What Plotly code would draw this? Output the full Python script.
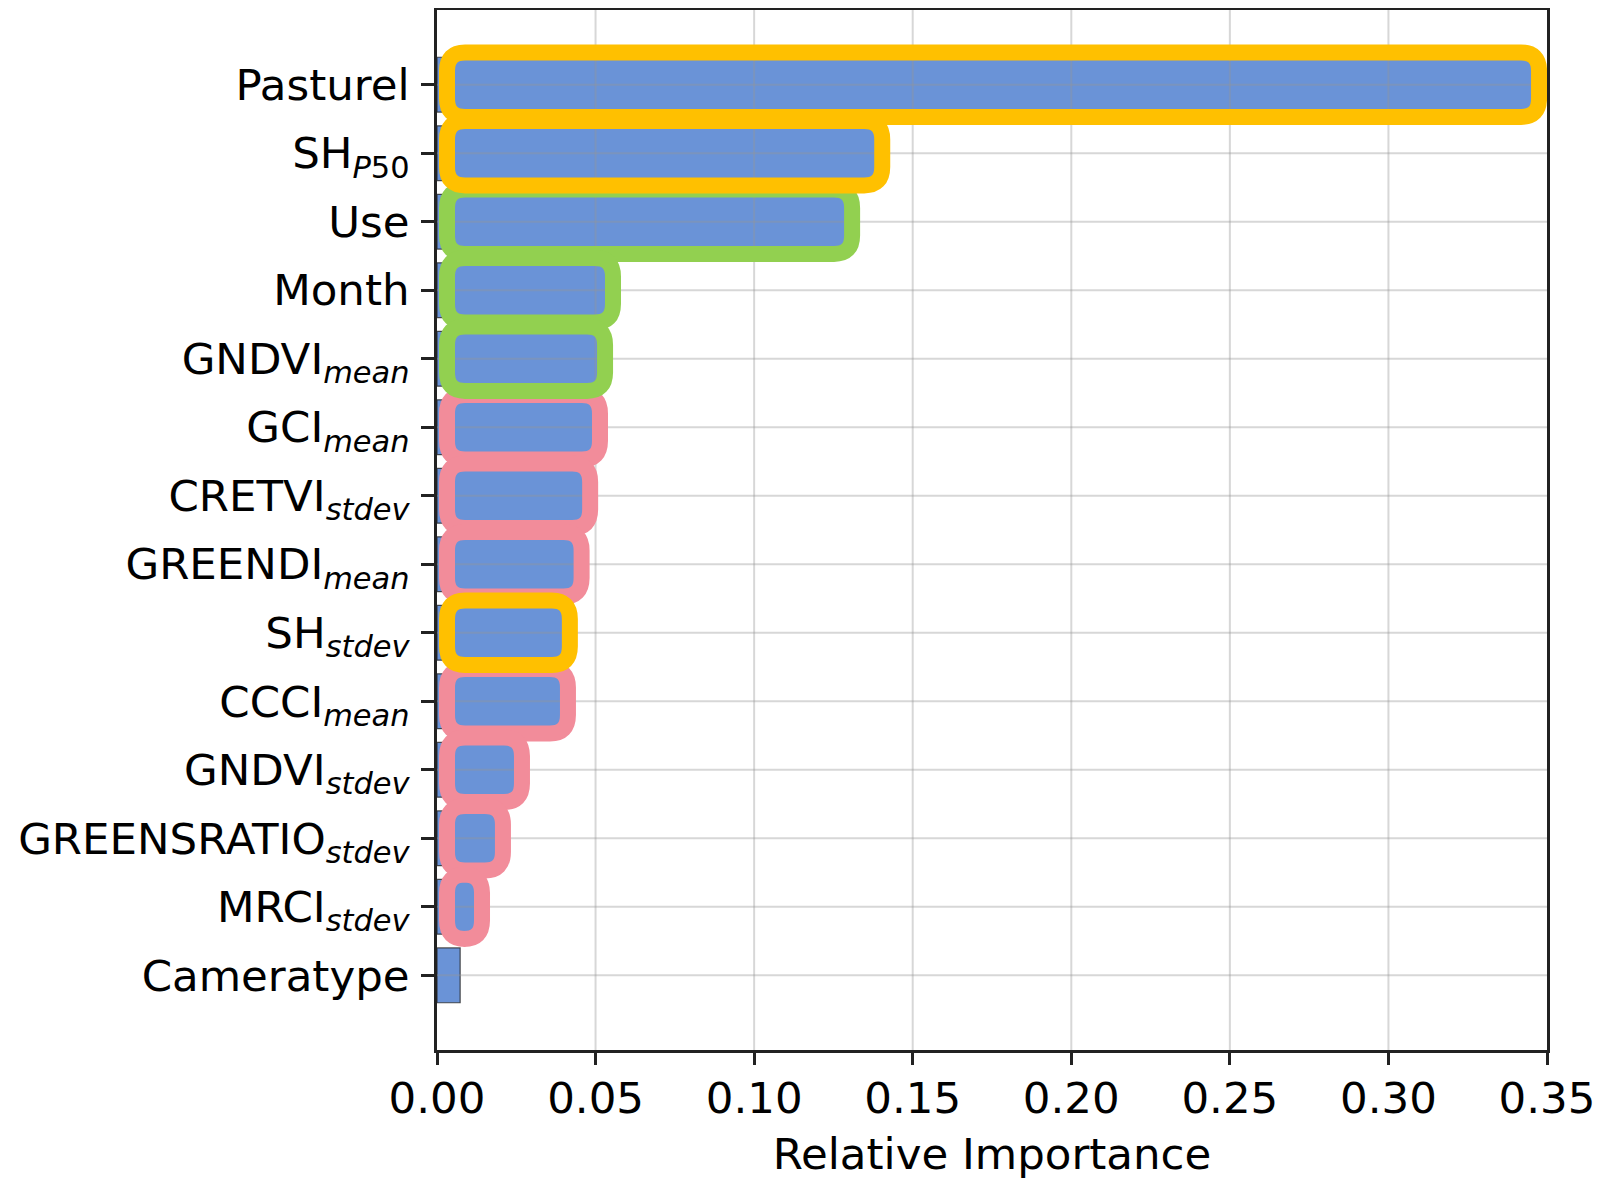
import plotly.graph_objects as go

# ---- data (top to bottom as shown) ----
categories = [
    "Pasturel",
    "SH<sub><i>P</i>50</sub>",
    "Use",
    "Month",
    "GNDVI<sub><i>mean</i></sub>",
    "GCI<sub><i>mean</i></sub>",
    "CRETVI<sub><i>stdev</i></sub>",
    "GREENDI<sub><i>mean</i></sub>",
    "SH<sub><i>stdev</i></sub>",
    "CCCI<sub><i>mean</i></sub>",
    "GNDVI<sub><i>stdev</i></sub>",
    "GREENSRATIO<sub><i>stdev</i></sub>",
    "MRCI<sub><i>stdev</i></sub>",
    "Cameratype",
]
importance = [0.3456, 0.1385, 0.1290, 0.0536, 0.0511, 0.0495, 0.0464,
              0.0437, 0.0400, 0.0394, 0.0249, 0.0189, 0.0123, 0.0073]
# highlight group of each feature (None = no highlight box)
groups = ["sh", "sh", "meta", "meta", "meta", "vi", "vi",
          "vi", "sh", "vi", "vi", "vi", "vi", None]
x_ticks = [0.00, 0.05, 0.10, 0.15, 0.20, 0.25, 0.30, 0.35]
x_ticklabels = ["0.00", "0.05", "0.10", "0.15", "0.20", "0.25", "0.30", "0.35"]

# ---- styles ----
BAR_COLOR = "#6A93D7"
GROUP_COLORS = {"sh": "#FFC000", "meta": "#92D050", "vi": "#F28C9A"}
GROUP_ORDER = ["vi", "meta", "sh"]  # drawing order (last on top)
FONT = "DejaVu Sans"
FS = 43.5

n = len(categories)
ypos = [n - 1 - i for i in range(n)]  # top item gets largest y

fig = go.Figure()
fig.add_trace(go.Bar(
    x=importance, y=ypos, orientation="h", width=0.8,
    marker=dict(color=BAR_COLOR, line=dict(color="rgba(40,40,40,0.8)", width=1.2)),
    hoverinfo="x",
))

shapes = []
GRID = "rgba(150,150,150,0.38)"
# gridlines above bars
for xv in x_ticks[1:-1]:
    shapes.append(dict(type="line", xref="x", yref="paper", x0=xv, x1=xv, y0=0, y1=1,
                       line=dict(color=GRID, width=2), layer="above"))
for yv in ypos:
    shapes.append(dict(type="line", xref="paper", yref="y", x0=0, x1=1, y0=yv, y1=yv,
                       line=dict(color=GRID, width=2), layer="above"))

# rounded highlight boxes
px_per_x = 1110 / 0.35
LEFT = 10 / px_per_x      # box left edge offset from axis
RIGHT_PAD = 6 / px_per_x  # box right edge beyond bar end
HALF_H = 0.47
RX = 18 / px_per_x
RY = 0.27


def rounded_path(x0, x1, y0, y1, rx, ry):
    return (f"M {x0+rx},{y0} L {x1-rx},{y0} Q {x1},{y0} {x1},{y0+ry} "
            f"L {x1},{y1-ry} Q {x1},{y1} {x1-rx},{y1} "
            f"L {x0+rx},{y1} Q {x0},{y1} {x0},{y1-ry} "
            f"L {x0},{y0+ry} Q {x0},{y0} {x0+rx},{y0} Z")


for g in GROUP_ORDER:
    for v, yv, gg in zip(importance, ypos, groups):
        if gg != g:
            continue
        shapes.append(dict(
            type="path", xref="x", yref="y",
            path=rounded_path(LEFT, v + RIGHT_PAD, yv - HALF_H, yv + HALF_H, RX, RY),
            line=dict(color=GROUP_COLORS[g], width=16), fillcolor="rgba(0,0,0,0)",
            layer="above"))

fig.update_layout(
    template="none",
    width=1601, height=1178,
    margin=dict(l=429, r=62, t=2, b=136),
    plot_bgcolor="white", paper_bgcolor="white",
    font=dict(family=FONT, size=FS, color="black"),
    showlegend=False,
    bargap=0.2,
    shapes=shapes,
    xaxis=dict(
        automargin=False,
        range=[0, 0.35], tickvals=x_ticks, ticktext=x_ticklabels,
        showgrid=False, zeroline=False,
        showline=True, linecolor="#222", linewidth=2.5, mirror=True,
        ticks="outside", ticklen=12, tickwidth=2.5, tickcolor="#222",
        tickfont=dict(size=FS, family=FONT),
        ticklabelstandoff=-4,
        title=dict(text="Relative Importance", font=dict(size=FS, family=FONT), standoff=17),
    ),
    yaxis=dict(
        automargin=False,
        range=[-1.09, n - 1 + 1.09], tickvals=ypos, ticktext=categories,
        showgrid=False, zeroline=False,
        showline=True, linecolor="#222", linewidth=2.5, mirror=True,
        ticks="outside", ticklen=13, tickwidth=2.5, tickcolor="#222",
        tickfont=dict(size=FS, family=FONT),
        ticklabelstandoff=3,
    ),
)

fig.write_html("out.html")
